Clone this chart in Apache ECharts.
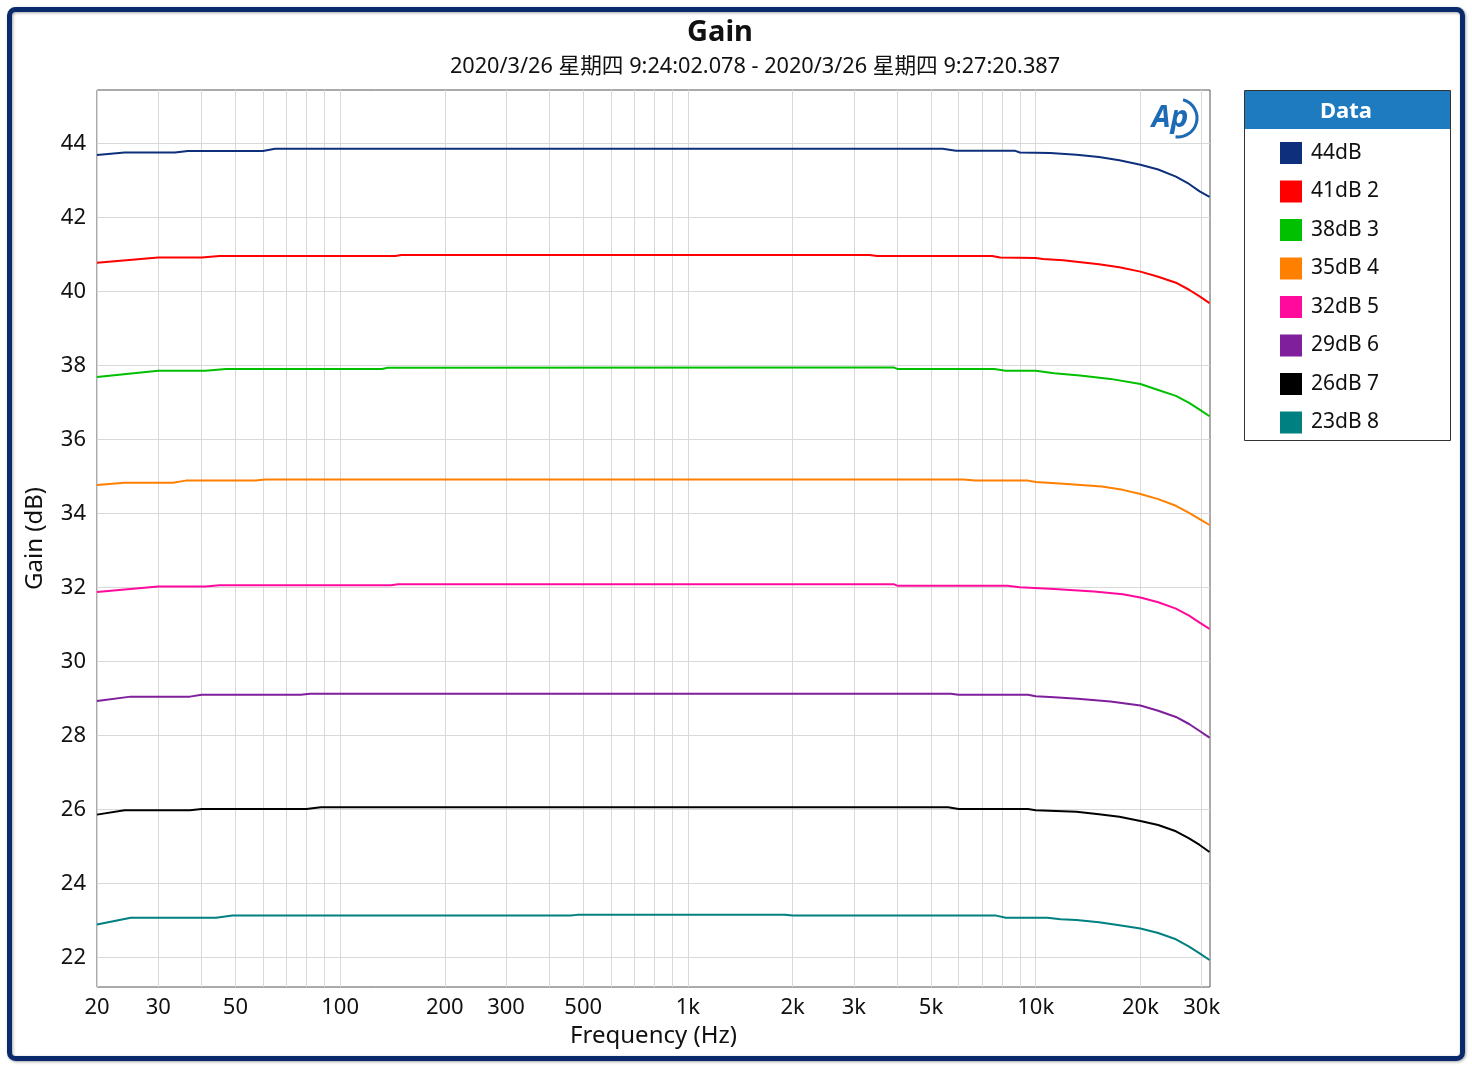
<!DOCTYPE html>
<html>
<head>
<meta charset="utf-8">
<script src="https://cdn.jsdelivr.net/npm/echarts@6/dist/echarts.min.js"></script>
<style>
html,body{margin:0;padding:0;background:#fff;}
#chart{width:1472px;height:1069px;}
</style>
</head>
<body>
<div id="chart"></div>
<script>
// ---- data ----
const seriesNames = ['44dB', '41dB 2', '38dB 3', '35dB 4', '32dB 5', '29dB 6', '26dB 7', '23dB 8'];
const seriesColors = ['#0d2f7c', '#ff0000', '#00c000', '#ff7f00', '#ff0a9c', '#7f1f9b', '#000000', '#008080'];

const gain44 = [[20,43.69],[24,43.76],[33.5,43.76],[36.5,43.80],[60,43.80],[65,43.86],[5400,43.86],[5900,43.81],[8700,43.81],[9000,43.76],[11000,43.75],[13100,43.70],[15200,43.64],[17400,43.55],[20000,43.43],[22500,43.30],[25300,43.11],[27600,42.91],[29600,42.71],[31600,42.56]];
const gain41 = [[20,40.78],[30,40.92],[40,40.92],[45,40.96],[144,40.96],[150,40.99],[3330,40.99],[3500,40.96],[7500,40.96],[7900,40.92],[10000,40.91],[10500,40.88],[12000,40.85],[13100,40.81],[15200,40.74],[17400,40.66],[20000,40.54],[22500,40.40],[25300,40.24],[27600,40.05],[29600,39.87],[31600,39.69]];
const gain38 = [[20,37.69],[30,37.86],[41,37.86],[47,37.91],[132,37.91],[137,37.94],[3900,37.95],[4000,37.91],[7600,37.91],[8200,37.86],[10000,37.86],[11300,37.79],[13400,37.73],[16400,37.64],[20000,37.50],[22500,37.34],[25300,37.18],[27600,36.99],[29600,36.81],[31600,36.63]];
const gain35 = [[20,34.77],[24,34.83],[33,34.83],[36,34.89],[57,34.89],[61,34.92],[6200,34.92],[6700,34.89],[9500,34.89],[10000,34.85],[12300,34.80],[15500,34.73],[17800,34.64],[20000,34.53],[22500,34.39],[25300,34.21],[27600,34.02],[29600,33.85],[31600,33.69]];
const gain32 = [[20,31.88],[30,32.03],[41,32.03],[45,32.06],[140,32.06],[147,32.09],[3900,32.09],[4000,32.05],[8300,32.05],[9000,32.01],[11300,31.96],[14700,31.89],[17800,31.82],[20000,31.73],[22500,31.60],[25300,31.43],[27600,31.24],[29600,31.05],[31600,30.88]];
const gain29 = [[20,28.93],[25,29.05],[37,29.05],[40,29.10],[77,29.10],[82,29.13],[5700,29.13],[6000,29.10],[9500,29.10],[10000,29.06],[11300,29.03],[13200,28.99],[16400,28.92],[20000,28.81],[22500,28.67],[25300,28.50],[27600,28.31],[29600,28.12],[31600,27.94]];
const gain26 = [[20,25.86],[24,25.98],[37,25.98],[40,26.01],[80,26.01],[88,26.06],[5600,26.06],[6000,26.01],[9500,26.01],[10000,25.98],[13100,25.94],[15200,25.87],[17400,25.80],[20000,25.69],[22500,25.58],[25300,25.41],[27600,25.22],[29600,25.04],[31600,24.85]];
const gain23 = [[20,22.89],[25,23.07],[44,23.07],[49,23.13],[460,23.13],[480,23.15],[1900,23.15],[2000,23.13],[7700,23.13],[8200,23.07],[10800,23.07],[11800,23.03],[13100,23.01],[15200,22.95],[17400,22.87],[20000,22.78],[22500,22.66],[25300,22.49],[27600,22.29],[29600,22.11],[31600,21.93]];
const allGains = [gain44, gain41, gain38, gain35, gain32, gain29, gain26, gain23];

const xGridValues = [20,30,40,50,60,70,80,90,100,200,300,400,500,600,700,800,900,1000,2000,3000,4000,5000,6000,7000,8000,9000,10000,20000,30000];
const xLabelValues = [20,30,50,100,200,300,500,1000,2000,3000,5000,10000,20000,30000];
const yTickValues = [22,24,26,28,30,32,34,36,38,40,42,44];

const titleText = 'Gain';
const subtitleText = '2020/3/26 星期四 9:24:02.078 - 2020/3/26 星期四 9:27:20.387';
const xAxisName = 'Frequency (Hz)';
const yAxisName = 'Gain (dB)';
const legendTitle = 'Data';

// ---- chart ----
const FONT = "'Noto Sans', 'Noto Sans CJK SC', sans-serif";
const chart = echarts.init(document.getElementById('chart'), null, {renderer: 'canvas'});

const option = {
  backgroundColor: '#ffffff',
  animation: false,
  textStyle: {fontFamily: FONT},
  grid: {left: 97, right: 262, top: 90, bottom: 82, show: true, borderColor: '#555', borderWidth: 1, backgroundColor: 'transparent'},
  xAxis: {
    type: 'log', logBase: 10, min: 20, max: 31700,
    name: xAxisName, nameLocation: 'middle', nameGap: 33,
    nameTextStyle: {fontSize: 24, color: '#111', fontFamily: FONT},
    axisLine: {show: false},
    axisTick: {show: false, customValues: xGridValues},
    splitLine: {show: true, lineStyle: {color: '#d9d9d9', width: 1}},
    axisLabel: {
      customValues: xLabelValues, fontSize: 22, color: '#111', margin: 10, fontFamily: FONT,
      formatter: v => v >= 1000 ? (v / 1000) + 'k' : String(v)
    }
  },
  yAxis: {
    type: 'value', min: 21.2, max: 45.45,
    name: yAxisName, nameLocation: 'middle', nameGap: 50,
    nameTextStyle: {fontSize: 24, color: '#111', fontFamily: FONT},
    axisLine: {show: false},
    axisTick: {show: false, customValues: yTickValues},
    splitLine: {show: true, lineStyle: {color: '#d9d9d9', width: 1}},
    axisLabel: {customValues: yTickValues, fontSize: 22, color: '#111', margin: 11, fontFamily: FONT}
  },
  legend: {
    orient: 'vertical', left: 1280, top: 142, padding: 0,
    itemWidth: 22, itemHeight: 22, itemGap: 16.5, icon: 'rect',
    textStyle: {fontSize: 21, color: '#111', lineHeight: 22, padding: [0, 0, 0, 4], fontFamily: FONT},
    data: seriesNames
  },
  series: seriesNames.map((n, i) => ({
    name: n, type: 'line', data: allGains[i], showSymbol: false, symbol: 'none',
    lineStyle: {color: seriesColors[i], width: 2}, itemStyle: {color: seriesColors[i]},
    z: 10 - i
  })),
  graphic: [
    {type: 'rect', shape: {x: 9.5, y: 9.5, width: 1453, height: 1049, r: 6},
     style: {fill: 'none', stroke: '#0b2a6c', lineWidth: 5, shadowBlur: 3, shadowColor: 'rgba(0,0,0,0.35)', shadowOffsetX: 1, shadowOffsetY: 1}, z: 100},
    {type: 'text', x: 720, y: 33, style: {text: titleText, font: "bold 29px " + FONT, fill: '#111', textAlign: 'center', textVerticalAlign: 'middle'}, z: 100},
    {type: 'text', x: 755, y: 67, style: {text: subtitleText, font: "21.7px " + FONT, fill: '#111', textAlign: 'center', textVerticalAlign: 'middle'}, z: 100},
    {type: 'rect', shape: {x: 1244.5, y: 90.5, width: 206, height: 350}, style: {fill: '#fff', stroke: '#333', lineWidth: 1}, z: -1},
    {type: 'rect', shape: {x: 1245, y: 91, width: 205, height: 38}, style: {fill: '#1f7bbf'}, z: 0},
    {type: 'text', x: 1346, y: 112, style: {text: legendTitle, font: "bold 22px " + FONT, fill: '#fff', textAlign: 'center', textVerticalAlign: 'middle'}, z: 1},
    {type: 'text', x: 1170, y: 118, style: {text: 'Ap', font: "italic bold 30px " + FONT, fill: '#1d6bb5', textAlign: 'center', textVerticalAlign: 'middle'}, z: 20},
    {type: 'arc', shape: {cx: 1178, cy: 118, r: 19, startAngle: -1.3, endAngle: 1.7}, style: {stroke: '#1d6bb5', lineWidth: 3, fill: 'none'}, z: 20}
  ]
};
chart.setOption(option);
</script>
</body>
</html>
